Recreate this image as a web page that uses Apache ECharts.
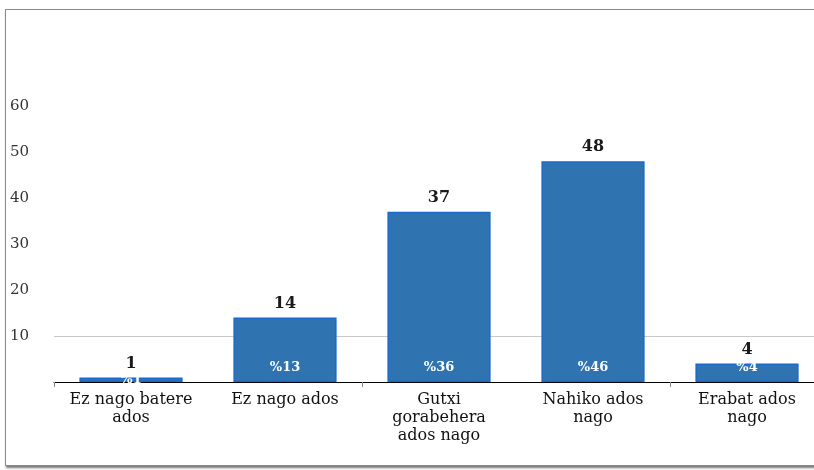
<!DOCTYPE html>
<html><head><meta charset="utf-8">
<script src="https://cdn.jsdelivr.net/npm/echarts@6/dist/echarts.min.js"></script>
<style>
html,body{margin:0;padding:0;background:#fff;width:814px;height:470px;overflow:hidden;}
#frame{position:absolute;left:5px;top:9px;width:830px;height:455px;border:1px solid #8a8a8a;box-shadow:1px 2px 2px #777;}
#c{position:absolute;left:0;top:0;width:830px;height:470px;}
</style></head>
<body>
<div id="frame"></div>
<div id="c"></div>
<script>
const categories = ["Ez nago batere\nados", "Ez nago ados", "Gutxi\ngorabehera\nados nago", "Nahiko ados\nnago", "Erabat ados\nnago"];
const counts = [1, 14, 37, 48, 4];
const percents = ["%1", "%13", "%36", "%46", "%4"];
const yTicks = [0, 10, 20, 30, 40, 50, 60];

const font = "'DejaVu Serif', serif";
const chart = echarts.init(document.getElementById('c'));
chart.setOption({
  backgroundColor: 'transparent',
  animation: false,
  grid: {left: 54, right: 6, top: 106, bottom: 88},
  xAxis: {
    type: 'category', data: categories,
    axisLine: {lineStyle: {color: '#000', width: 1}},
    axisTick: {show: true, interval: 1, length: 5, lineStyle: {color: '#888'}},
    axisLabel: {color: '#111', fontFamily: font, fontSize: 16, lineHeight: 18, margin: 9, interval: 0}
  },
  yAxis: {
    type: 'value', min: yTicks[0], max: yTicks[yTicks.length-1], interval: 10,
    axisLine: {show: false}, axisTick: {show: false},
    splitLine: {show: false},
    axisLabel: {color: '#333', fontFamily: font, fontSize: 15, align: 'left', margin: 44,
      formatter: v => v === 0 ? '' : String(v)}
  },
  series: [
    {
      type: 'bar', data: [], silent: true, z: 0,
      markLine: {
        silent: true, symbol: 'none', label: {show: false}, z: 0,
        lineStyle: {color: '#c8c8c8', type: 'solid', width: 1},
        data: [{yAxis: yTicks[1]}]
      }
    },
    {
      type: 'bar', data: counts, barGap: '-100%', barCategoryGap: '33%',
      itemStyle: {color: '#2f74b1', borderColor: '#1a68cc', borderWidth: 1.5},
      label: {show: true, position: 'top', distance: 6, color: '#1a1a1a', fontFamily: font, fontSize: 16, fontWeight: 'bold'},
      z: 2
    },
    {
      type: 'bar', barGap: '-100%', barCategoryGap: '33%', silent: true,
      data: counts.map(v => ({value: v, label: v < 3 ? {position: 'inside', distance: 0} : {}})),
      itemStyle: {color: 'rgba(0,0,0,0)'},
      label: {show: true, position: 'insideBottom', distance: 8, color: '#fff', fontFamily: font, fontSize: 13, fontWeight: 'bold',
        formatter: p => percents[p.dataIndex]},
      z: 3
    }
  ]
});
</script>
</body></html>
